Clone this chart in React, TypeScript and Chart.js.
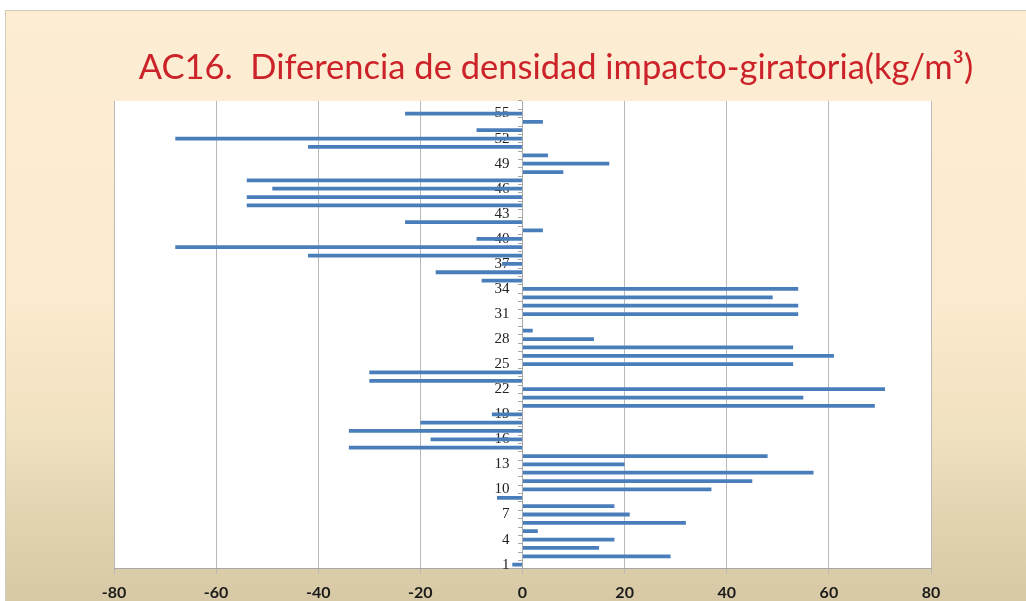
import React, { useEffect, useRef } from "react";
import { Chart, registerables } from "chart.js";

Chart.register(...registerables);

const titleText = "AC16.  Diferencia de densidad impacto-giratoria(kg/m\u00B3)";

const categories = [
  "1", "2", "3", "4", "5", "6", "7", "8", "9", "10",
  "11", "12", "13", "14", "15", "16", "17", "18", "19", "20",
  "21", "22", "23", "24", "25", "26", "27", "28", "29", "30",
  "31", "32", "33", "34", "35", "36", "37", "38", "39", "40",
  "41", "42", "43", "44", "45", "46", "47", "48", "49", "50",
  "51", "52", "53", "54", "55", "56",
];

const differences: (number | null)[] = [
  -2, 29, 15, 18, 3, 32, 21, 18, -5, 37,
  45, 57, 20, 48, -34, -18, -34, -20, -6, 69,
  55, 71, -30, -30, 53, 61, 53, 14, 2, 0,
  54, 54, 49, 54, -8, -17, -4, -42, -68, -9,
  4, -23, 0, -54, -54, -49, -54, 8, 17, 5,
  -42, -68, -9, 4, -23, null,
];

const xMin = -80;
const xMax = 80;
const xStep = 20;

export default function App() {
  const canvasRef = useRef<HTMLCanvasElement | null>(null);

  useEffect(() => {
    document.body.style.margin = "0";
    const canvas = canvasRef.current;
    if (!canvas) return;

    const plotBackground = {
      id: "plotBackground",
      beforeDraw(chart: any) {
        const { ctx, chartArea } = chart;
        ctx.save();
        ctx.fillStyle = "#ffffff";
        ctx.fillRect(chartArea.left, chartArea.top, chartArea.right - chartArea.left, chartArea.bottom - chartArea.top);
        ctx.restore();
        // shift category labels to the left of the crossing axis line
        const yScale = chart.scales.y;
        if (yScale && typeof yScale.getLabelItems === "function") {
          const items = yScale.getLabelItems(chartArea);
          if (!(yScale as any).__shifted) {
            items.forEach((it: any) => {
              if (it.options && it.options.translation) it.options.translation[0] -= 13;
            });
            (yScale as any).__shifted = true;
          }
        }
      },
    };

    const slideTitle = {
      id: "slideTitle",
      afterDraw(chart: any) {
        const { ctx } = chart;
        ctx.save();
        ctx.font = "34.5px Lato, 'Open Sans', sans-serif";
        ctx.fillStyle = "#cc2229";
        ctx.textAlign = "center";
        ctx.textBaseline = "alphabetic";
        ctx.fillText(titleText, 556, 79);
        ctx.restore();
      },
    };

    const chart = new Chart(canvas, {
      type: "bar",
      data: {
        labels: categories,
        datasets: [
          {
            data: differences,
            backgroundColor: "#4a7ebb",
            borderWidth: 0,
            barPercentage: 0.45,
            categoryPercentage: 1,
          },
        ],
      },
      options: {
        indexAxis: "y",
        animation: false,
        responsive: false,
        maintainAspectRatio: false,
        layout: { padding: { left: 114, right: 95, top: 101, bottom: 0 } },
        plugins: {
          legend: { display: false },
          title: { display: false },
          tooltip: { enabled: false },
        },
        scales: {
          x: {
            type: "linear",
            min: xMin,
            max: xMax,
            ticks: {
              stepSize: xStep,
              color: "#1a1a1a",
              padding: 9,
              font: { family: "Lato, 'Open Sans', sans-serif", size: 16, weight: "bold" },
            },
            grid: { color: "#b8b8b8", lineWidth: 1, tickLength: 5 },
            border: { color: "#a8a8a8", width: 1 },
          },
          y: {
            type: "category",
            position: { x: 0 },
            reverse: true,
            offset: true,
            ticks: {
              autoSkip: false,
              padding: 10,
              color: "#222222",
              font: { family: "'Liberation Serif', 'DejaVu Serif', serif", size: 15 },
              callback: (_v: any, i: number) => (i % 3 === 0 ? categories[i] : ""),
            },
            grid: { drawOnChartArea: false, drawTicks: true, tickLength: 4, offset: true, color: "#a8a8a8" },
            border: { color: "#a8a8a8", width: 1 },
          },
        },
      },
      plugins: [plotBackground, slideTitle],
    } as any);

    return () => chart.destroy();
  }, []);

  return (
    <div style={{ position: "fixed", left: 0, top: 0, width: 1026, height: 601, background: "#ffffff", overflow: "hidden" }}>
      <div
        style={{
          position: "absolute",
          left: 5,
          top: 10,
          right: -2,
          bottom: 0,
          borderLeft: "1px solid #d0cabc",
          borderTop: "1px solid #d0cabc",
          background: "linear-gradient(to bottom, #fdedd3 0%, #fbeacd 50%, #f0e1c0 72%, #e2d4b1 86%, #d7c9a5 100%)",
        }}
      />
      <canvas ref={canvasRef} width={1026} height={611} style={{ position: "absolute", left: 0, top: 0 }} />
    </div>
  );
}
